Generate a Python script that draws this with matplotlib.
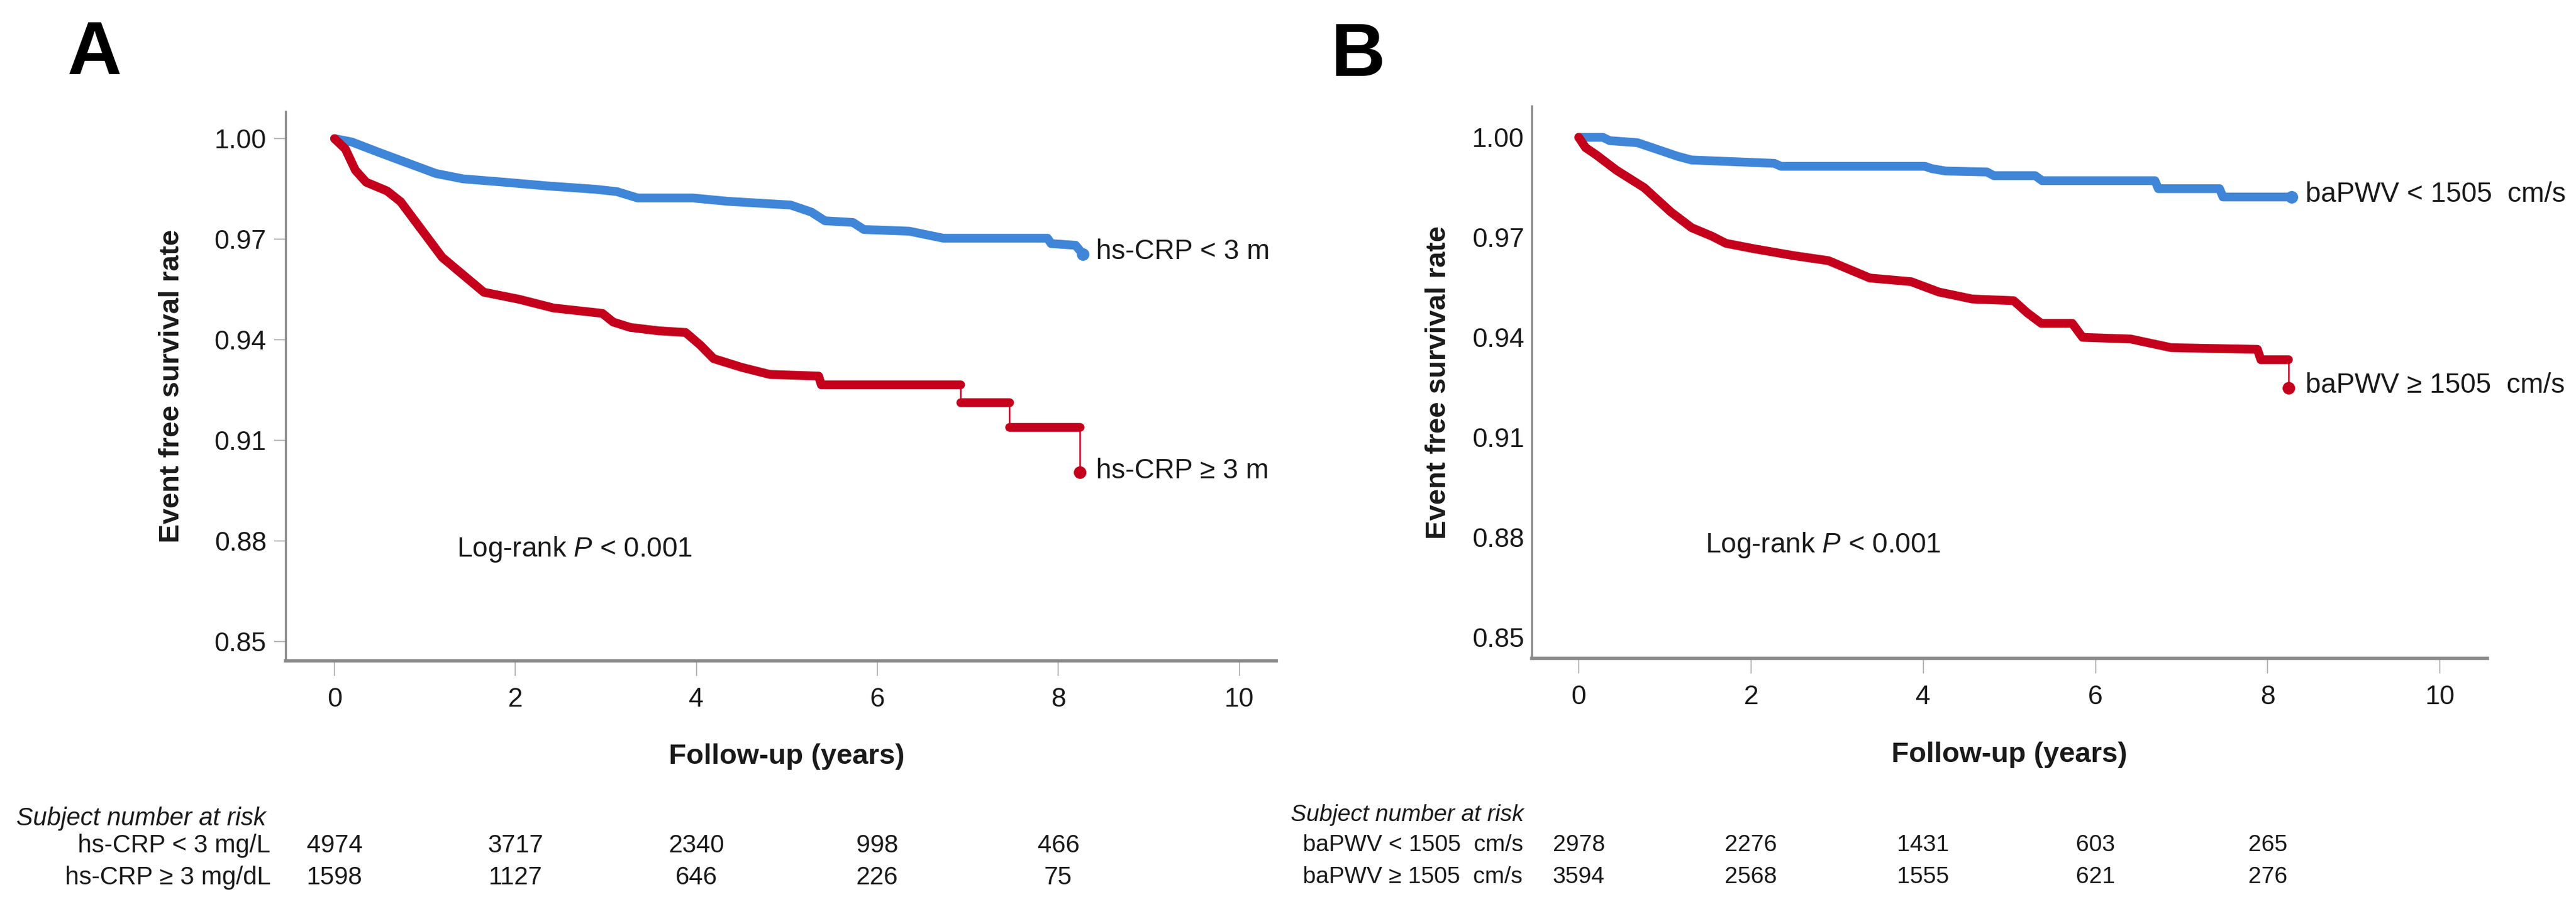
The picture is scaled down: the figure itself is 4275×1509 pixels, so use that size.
import matplotlib
matplotlib.use('Agg')
import matplotlib.pyplot as plt
from matplotlib.transforms import blended_transform_factory

plt.rcParams['font.family'] = ['Liberation Sans', 'DejaVu Sans']
plt.rcParams['mathtext.fontset'] = 'custom'
plt.rcParams['mathtext.it'] = 'Liberation Sans:italic'
plt.rcParams['mathtext.rm'] = 'Liberation Sans'

BLUE = '#3f86d8'
RED = '#c4001c'
TXT = '#1a1a1a'

# ---- panel A : hs-CRP ----
a_low_t = [0, 0.19, 0.5, 0.81, 1.12, 1.42, 1.88, 2.35, 2.88, 3.12, 3.35, 3.96, 4.35,
           5.04, 5.27, 5.42, 5.73, 5.85, 6.35, 6.73, 7.88, 7.92, 8.19, 8.27]
a_low_s = [1.000, 0.999, 0.9958, 0.9927, 0.9896, 0.988, 0.987, 0.9859, 0.9849, 0.9842,
           0.9823, 0.9823, 0.9813, 0.9802, 0.9781, 0.9755, 0.975, 0.9729, 0.9724,
           0.9703, 0.9703, 0.9687, 0.9682, 0.9656]
a_high_t = [0, 0.12, 0.23, 0.35, 0.58, 0.73, 0.96, 1.19, 1.42, 1.65, 2.04, 2.42, 2.96,
            3.08, 3.27, 3.58, 3.88, 4.04, 4.19, 4.5, 4.81, 5.35, 5.38, 6.92, 6.92,
            7.46, 7.46, 8.24, 8.24]
a_high_s = [1.000, 0.9969, 0.9906, 0.987, 0.9844, 0.9812, 0.9729, 0.9646, 0.9594,
            0.9542, 0.9521, 0.9495, 0.9479, 0.9453, 0.9437, 0.9427, 0.9422, 0.9385,
            0.9344, 0.9318, 0.9297, 0.9292, 0.9266, 0.9266, 0.9213, 0.9213, 0.914,
            0.914, 0.9005]
a_labels = ['hs-CRP < 3 m', 'hs-CRP \u2265 3 m']
a_rows = ['hs-CRP < 3 mg/L', 'hs-CRP \u2265 3 mg/dL']
a_risk_low = [4974, 3717, 2340, 998, 466]
a_risk_high = [1598, 1127, 646, 226, 75]

# ---- panel B : baPWV ----
b_low_t = [0, 0.28, 0.36, 0.68, 0.91, 1.15, 1.31, 1.79, 2.27, 2.35, 4.02, 4.1, 4.26,
           4.74, 4.82, 5.3, 5.38, 6.69, 6.73, 7.44, 7.48, 8.28]
b_low_s = [1.000, 1.000, 0.999, 0.9984, 0.9964, 0.9943, 0.9932, 0.9927, 0.9922,
           0.9913, 0.9913, 0.9906, 0.9899, 0.9896, 0.9885, 0.9885, 0.987, 0.987,
           0.9846, 0.9846, 0.9821, 0.9821]
b_high_t = [0, 0.08, 0.2, 0.44, 0.76, 1.07, 1.31, 1.55, 1.71, 2.03, 2.5, 2.9, 3.14,
            3.38, 3.86, 4.18, 4.57, 5.05, 5.21, 5.37, 5.73, 5.85, 6.41, 6.88, 7.88,
            7.92, 8.24, 8.24]
b_high_s = [1.000, 0.9969, 0.9948, 0.9901, 0.9849, 0.9776, 0.9729, 0.9703, 0.9682,
            0.9666, 0.9645, 0.963, 0.9604, 0.9578, 0.9567, 0.9536, 0.9515, 0.951,
            0.9473, 0.9442, 0.9442, 0.94, 0.9395, 0.9369, 0.9364, 0.9333, 0.9333,
            0.9249]
b_labels = ['baPWV < 1505  cm/s', 'baPWV \u2265 1505  cm/s']
b_rows = ['baPWV < 1505  cm/s', 'baPWV \u2265 1505  cm/s']
b_risk_low = [2978, 2276, 1431, 603, 265]
b_risk_high = [3594, 2568, 1555, 621, 276]

risk_times = [0, 2, 4, 6, 8]
x_ticks = [0, 2, 4, 6, 8, 10]
y_ticks = [0.85, 0.88, 0.91, 0.94, 0.97, 1.00]


def draw_km(ax, t, s, color):
    # thick line for the dense part, thin line for the big drops (SPSS look)
    run_t, run_s = [t[0]], [s[0]]
    for i in range(1, len(t)):
        if t[i] == t[i - 1] and abs(s[i] - s[i - 1]) > 0.004:
            if len(run_t) > 1:
                ax.plot(run_t, run_s, color=color, lw=10.5,
                        solid_capstyle='round', solid_joinstyle='round')
            ax.plot([t[i - 1], t[i]], [s[i - 1], s[i]], color=color, lw=1.8)
            run_t, run_s = [t[i]], [s[i]]
        else:
            run_t.append(t[i])
            run_s.append(s[i])
    if len(run_t) > 1:
        ax.plot(run_t, run_s, color=color, lw=10.5,
                solid_capstyle='round', solid_joinstyle='round')
    ax.plot(t[-1], s[-1], 'o', color=color, ms=14)


def setup_axes(ax, xlim, ylim, ytick_len):
    ax.set_xlim(*xlim)
    ax.set_ylim(*ylim)
    for side in ['top', 'right']:
        ax.spines[side].set_visible(False)
    ax.spines['left'].set_color('#8a8a8a')
    ax.spines['left'].set_linewidth(2.5)
    ax.spines['bottom'].set_color('#8a8a8a')
    ax.spines['bottom'].set_linewidth(4)
    ax.set_xticks(x_ticks)
    ax.set_yticks(y_ticks)
    ax.set_yticklabels(['%.2f' % v for v in y_ticks])
    ax.tick_params(axis='x', length=18, width=1.2, color='#aaaaaa', pad=14,
                   labelsize=32, labelcolor=TXT)
    ax.tick_params(axis='y', length=ytick_len, width=1.2, color='#aaaaaa',
                   pad=9, labelsize=32, labelcolor=TXT)


def draw_panel(ax, low_t, low_s, high_t, high_s, labels, label_pos, logrank_pos,
               rows, risk_low, risk_high, ylabel_x, table, row_ha, row_x, head_x, tsize):
    draw_km(ax, low_t, low_s, BLUE)
    draw_km(ax, high_t, high_s, RED)
    for lab, (lx, ly) in zip(labels, label_pos):
        ax.text(lx, ly, lab, fontsize=33, color=TXT, va='center', ha='left')
    ax.text(logrank_pos[0], logrank_pos[1], 'Log-rank $P$ < 0.001', fontsize=33,
            color=TXT, va='center', ha='left')
    ax.text(ylabel_x, 0.5, 'Event free survival rate', transform=ax.transAxes,
            rotation=90, ha='center', va='center', fontsize=34, fontweight='bold',
            color=TXT)
    trans = blended_transform_factory(ax.transData, ax.transAxes)
    ax.text(5, table[0], 'Follow-up (years)', transform=trans, ha='center',
            va='center', fontsize=34, fontweight='bold', color=TXT)
    ax.text(head_x, table[1], 'Subject number at risk', transform=ax.transAxes,
            ha='left', va='center', fontsize=tsize, style='italic', color=TXT)
    ax.text(row_x, table[2], rows[0], transform=ax.transAxes, ha=row_ha,
            va='center', fontsize=tsize, color=TXT)
    ax.text(row_x, table[3], rows[1], transform=ax.transAxes, ha=row_ha,
            va='center', fontsize=tsize, color=TXT)
    for t, n1, n2 in zip(risk_times, risk_low, risk_high):
        ax.text(t, table[2], str(n1), transform=trans, ha='center', va='center',
                fontsize=tsize, color=TXT)
        ax.text(t, table[3], str(n2), transform=trans, ha='center', va='center',
                fontsize=tsize, color=TXT)


fig = plt.figure(figsize=(42.75, 15.09), dpi=100)
ax_a = fig.add_axes([0.1109, 0.273, 0.3846, 0.6044])
ax_b = fig.add_axes([0.5946, 0.2757, 0.3710, 0.6077])

setup_axes(ax_a, (-0.54, 10.41), (0.8443, 1.0081), 14)
setup_axes(ax_b, (-0.546, 10.55), (0.8437, 1.0094), 0)

draw_panel(ax_a, a_low_t, a_low_s, a_high_t, a_high_s, a_labels,
           [(8.42, 0.9662), (8.42, 0.9008)], (1.35, 0.8775),
           a_rows, a_risk_low, a_risk_high, -0.115,
           [-0.174, -0.2873, -0.3366, -0.3947], 'right', -0.0152, -0.272, 30)
draw_panel(ax_b, b_low_t, b_low_s, b_high_t, b_high_s, b_labels,
           [(8.44, 0.9828), (8.44, 0.9255)], (1.47, 0.8777),
           b_rows, b_risk_low, b_risk_high, -0.0977,
           [-0.1745, -0.2835, -0.338, -0.396], 'left', -0.2396, -0.252, 28)

fig.text(0.0262, 0.9185, 'A', fontsize=90, fontweight='bold', color='black')
fig.text(0.5167, 0.9165, 'B', fontsize=90, fontweight='bold', color='black')

fig.savefig('out.png', dpi=100, facecolor='white')
